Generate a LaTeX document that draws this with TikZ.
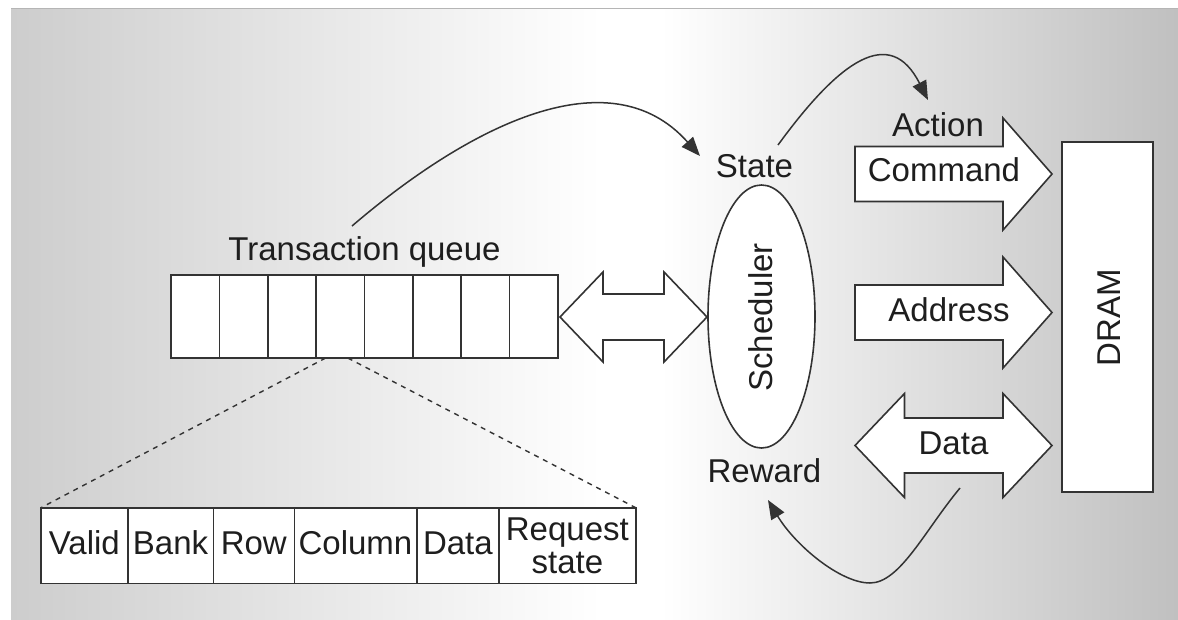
\documentclass[tikz,border=0pt]{standalone}
\usepackage{fontspec}
\setmainfont{Liberation Sans}
\usetikzlibrary{shapes.geometric,arrows.meta}
\definecolor{ink}{HTML}{333333}
\definecolor{txt}{HTML}{1E1E1E}
\definecolor{panelL}{HTML}{CDCDCD}
\definecolor{panelR}{HTML}{C0C0C0}
\definecolor{rulegray}{HTML}{B5B5B5}

\begin{document}
\begin{tikzpicture}[x=1pt,y=-1pt,
  lbl/.style={font=\fontsize{33}{33.3}\selectfont, text=txt, inner sep=0pt, anchor=base},
  box/.style={draw=ink, fill=white, line width=1.6pt, inner sep=0pt, outer sep=0pt},
  qcell/.style={box, minimum width=48.375pt, minimum height=83pt},
  fcell/.style={box, minimum height=75.6pt},
  blk/.style={draw=ink, fill=white, line width=1.6pt, line join=miter},
  flow/.style={draw=ink, line width=1.5pt, -{Triangle[length=19pt,width=15pt]}},
  zoomline/.style={draw=ink, line width=1.4pt, dash pattern=on 5pt off 5pt}
]
\useasboundingbox (0,0) rectangle (1178,619);
\fill[white] (0,0) rectangle (1178,619);
% background panel: grey at both sides, white towards the middle
\shade[left color=panelL, right color=white] (11,9) rectangle (601,619);
\fill[white] (600,9) rectangle (661,619);
\shade[left color=white, right color=panelR] (660,9) rectangle (1178,619);
\draw[rulegray, line width=1.3pt] (11,8.75) -- (1178,8.75);

% transaction queue
\foreach \i in {0,...,7}
  \node[qcell] (q\i) at ({195.1875+48.375*\i}, 316.5) {};
\node[lbl] (tq) at (364.5,260) {Transaction queue};

% expanded queue entry
\node[fcell, minimum width=86.7pt]  (fvalid) at (84.35,545.5) {};
\node[fcell, minimum width=85.6pt]  (fbank)  at (170.5,545.5) {};
\node[fcell, minimum width=81pt]    (frow)   at (253.8,545.5) {};
\node[fcell, minimum width=122.4pt] (fcol)   at (355.5,545.5) {};
\node[fcell, minimum width=82.3pt]  (fdata)  at (457.85,545.5) {};
\node[fcell, minimum width=136.7pt] (freq)   at (567.35,545.5) {};
\node[lbl] at ([yshift=-8.8pt]fvalid.center) {Valid};
\node[lbl] at ([yshift=-8.8pt]fbank.center) {Bank};
\node[lbl] at ([yshift=-8.8pt]frow.center) {Row};
\node[lbl] at ([yshift=-8.8pt]fcol.center) {Column};
\node[lbl] at ([yshift=-8.8pt]fdata.center) {Data};
\node[font=\fontsize{33}{33.3}\selectfont, text=txt, inner sep=0pt, align=center] at (freq.center) {Request\\state};

\coordinate (zl) at ([xshift=9.5pt]q3.south west);
\coordinate (zr) at ([xshift=7.5pt]q3.south);
\draw[zoomline] (zl) -- (fvalid.north west);
\draw[zoomline] (zr) -- (freq.north east);

% queue <-> scheduler
\draw[blk] (560,317) -- (603,272) -- (603,294) -- (664,294) -- (664,272) -- (707,317)
  -- (664,362) -- (664,340) -- (603,340) -- (603,362) -- cycle;

% scheduler
\node[draw=ink, fill=white, line width=1.6pt, ellipse, minimum width=107pt, minimum height=263pt, inner sep=0pt] (sched) at (761.5,316.5) {};
\node[lbl, rotate=90] (schedtxt) at (772,317.5) {Scheduler};
\node[lbl] (state) at (754.5,177) {State};
\node[lbl] (reward) at (764.5,482) {Reward};

% DRAM
\node[box, minimum width=91pt, minimum height=350pt] (dram) at (1107.5,317) {};
\node[lbl, rotate=90] (dramtxt) at (1120,317.5) {DRAM};

% command, address and data buses
\draw[blk] (855,146.5) -- (1003,146.5) -- (1003,118) -- (1052,174) -- (1003,230) -- (1003,201.5) -- (855,201.5) -- cycle;
\draw[blk] (855,285) -- (1003,285) -- (1003,257) -- (1052,312.5) -- (1003,368) -- (1003,340) -- (855,340) -- cycle;
\draw[blk] (855,445.5) -- (904.5,393.5) -- (904.5,418) -- (1003,418) -- (1003,393.5) -- (1052,445.5)
  -- (1003,497.5) -- (1003,473) -- (904.5,473) -- (904.5,497.5) -- cycle;
\node[lbl] (action) at (938,136) {Action};
\node[lbl] (cmd) at (944,181.7) {Command};
\node[lbl] (addr) at (949,321.7) {Address};
\node[lbl] (data) at (953.5,454) {Data};

% feedback loops
\coordinate (c1a) at (352,226);
\coordinate (c1b) at (700,156);
\draw[flow] (c1a) .. controls (470,125) and (610,55) .. (c1b);
\coordinate (c2a) at (778,145);
\coordinate (c2b) at (928,100);
\draw[flow] (c2a) .. controls (840,60) and (890,25) .. (c2b);
\coordinate (c3a) at (960,488);
\coordinate (c3m) at (870,583);
\coordinate (c3b) at (768,500);
\draw[flow] (c3a) .. controls (925,530) and (900,583) .. (c3m) .. controls (840,583) and (795,545) .. (c3b);
\end{tikzpicture}
\end{document}
